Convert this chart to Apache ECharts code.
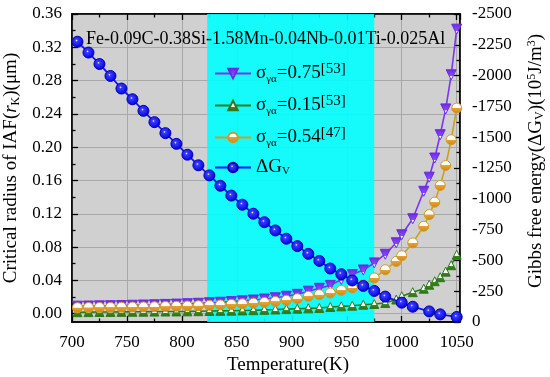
<!DOCTYPE html>
<html><head><meta charset="utf-8">
<script src="https://cdn.jsdelivr.net/npm/echarts@6/dist/echarts.min.js"></script>
<style>html,body{margin:0;padding:0;background:#fff}#c{width:550px;height:377px}</style>
</head><body><div id="c"></div>
<script>
// ---- data ----
const dgTemps = [705,715,725,735,745,755,765,775,785,795,805,815,825,835,845,855,865,875,885,895,905,915,925,935,945,955,965,975,985,1000,1010,1025,1035,1050];
const dgValues = [-2275,-2187,-2094,-1997,-1895,-1808,-1714,-1622,-1533,-1446,-1358,-1272,-1190,-1106,-1026,-952,-879,-810,-743,-676,-616,-553,-496,-434,-388,-337,-293,-252,-206,-157,-124,-86,-62,-41];

const sigmaTemps = [705,715,725,735,745,755,765,775,785,795,805,815,825,835,845,855,865,875,885,895,905,915,925,935,945,955,965,975,985,995,1000,1010,1020,1025,1030,1035,1040,1045,1050];
const rSigma075 = [0.0090,0.0092,0.0094,0.0096,0.0098,0.0101,0.0104,0.0107,0.0111,0.0115,0.0120,0.0125,0.0131,0.0137,0.0145,0.0154,0.0164,0.0176,0.0191,0.0209,0.0232,0.0270,0.0305,0.0340,0.0410,0.0470,0.0525,0.0610,0.0714,0.0852,0.0948,0.1140,0.1470,0.1640,0.1870,0.2150,0.2460,0.2870,0.3418];
const rSigma015 = [0.0018,0.0019,0.0020,0.0021,0.0022,0.0023,0.0024,0.0025,0.0026,0.0027,0.0028,0.0030,0.0032,0.0034,0.0036,0.0039,0.0042,0.0046,0.0050,0.0055,0.0060,0.0064,0.0068,0.0080,0.0088,0.0096,0.0108,0.0116,0.0128,0.0170,0.0210,0.0258,0.0300,0.0348,0.0390,0.0438,0.0505,0.0582,0.0708];
const rSigma054 = [0.0072,0.0073,0.0074,0.0075,0.0077,0.0079,0.0081,0.0083,0.0086,0.0089,0.0092,0.0096,0.0100,0.0105,0.0111,0.0118,0.0126,0.0135,0.0146,0.0160,0.0180,0.0208,0.0228,0.0248,0.0280,0.0309,0.0348,0.0429,0.0528,0.0628,0.0696,0.0850,0.1050,0.1190,0.1340,0.1540,0.1780,0.2090,0.2470];

const sigmaLabels = ['0.75','0.15','0.54'];
const sigmaRefs = ['[53]','[53]','[47]'];
const seriesNames = ['σγα=0.75[53]','σγα=0.15[53]','σγα=0.54[47]','ΔGV'];

const xTickLabels = [700,750,800,850,900,950,1000,1050];
const leftTickLabels = [0,0.04,0.08,0.12,0.16,0.20,0.24,0.28,0.32,0.36];
const leftMinorTicks = [0.02,0.06,0.10,0.14,0.18,0.22,0.26,0.30,0.34];
const cyanBand = [823, 975];
const titleText = 'Fe-0.09C-0.38Si-1.58Mn-0.04Nb-0.01Ti-0.025Al';

// ---- chart ----
const FONT = 'Liberation Serif, Times New Roman, serif';
const pair = (xs, ys) => xs.map((x, i) => [x, ys[i]]);
const grad = (stops) => ({type:'linear', x:0, y:0, x2:0, y2:1, colorStops: stops});

const chart = echarts.init(document.getElementById('c'), null, {renderer:'canvas'});
const axisLblStyle = {fontFamily: FONT, fontSize: 17, color: '#000'};
const blackLine = {show: true, onZero: false, lineStyle: {color: '#000', width: 1.5}};

chart.setOption({
  animation: false,
  backgroundColor: '#fff',
  title: {text: titleText, left: 81, top: 25, textStyle: {fontFamily: FONT, fontSize: 18, fontWeight: 'normal', color: '#000'}},
  grid: {left: 72, right: 90, top: 14, bottom: 55, show: true, backgroundColor: '#d0d0d0', borderColor: '#000', borderWidth: 1.5, containLabel: false, outerBoundsMode: 'none'},
  legend: {
    orient: 'vertical', left: 209, top: 57, itemWidth: 36, itemHeight: 12, itemGap: 9,
    data: seriesNames,
    formatter: function(name){
      const i = seriesNames.indexOf(name);
      if (i < 3) return '{m|σ}{s|γα}{m|=' + sigmaLabels[i] + '}{p|' + sigmaRefs[i] + '}';
      return '{m|ΔG}{s|V}';
    },
    textStyle: {
      color: '#000',
      rich: {
        m: {fontFamily: FONT, fontSize: 19, color: '#000', verticalAlign: 'middle'},
        s: {fontFamily: FONT, fontSize: 11, color: '#000', verticalAlign: 'bottom', padding: [8,0,0,0]},
        p: {fontFamily: FONT, fontSize: 15, color: '#000', verticalAlign: 'top', padding: [0,0,8,0]}
      }
    }
  },
  xAxis: [{
    type: 'value', min: 700, max: 1053, interval: 50, position: 'bottom',
    axisLine: blackLine,
    axisTick: {show: true, inside: true, length: 6, lineStyle: {color: '#000', width: 1.3}},
    minorTick: {show: true, splitNumber: 2, length: 3.5, lineStyle: {color: '#000', width: 1.3}},
    axisLabel: Object.assign({margin: 12, showMaxLabel: false, formatter: v => xTickLabels.includes(v) ? String(v) : ''}, axisLblStyle),
    splitLine: {show: true, lineStyle: {color: '#a8a8a8', width: 1}},
    name: 'Temperature(K)', nameLocation: 'middle', nameGap: 31,
    nameTextStyle: {fontFamily: FONT, fontSize: 19, color: '#000', padding: [0,0,0,44]}
  }, {
    type: 'value', min: 700, max: 1053, interval: 50, position: 'top',
    axisLine: blackLine,
    axisTick: {show: true, inside: true, length: 6, lineStyle: {color: '#000', width: 1.3}},
    minorTick: {show: true, splitNumber: 2, length: 3.5, lineStyle: {color: '#000', width: 1.3}},
    axisLabel: {show: false}, splitLine: {show: false}
  }],
  yAxis: [{
    type: 'value', min: -0.01, max: 0.36, position: 'left',
    axisLine: blackLine,
    axisTick: {show: true, inside: true, length: 6, customValues: leftTickLabels, lineStyle: {color: '#000', width: 1.3}},
    axisLabel: Object.assign({margin: 10, customValues: leftTickLabels, formatter: v => v.toFixed(2)}, axisLblStyle),
    splitLine: {show: true, lineStyle: {color: '#a8a8a8', width: 1}},
    name: '{m|Critical radius of IAF(}{i|r}{s|K}{m|)(μm)}', nameLocation: 'middle', nameGap: 44, nameRotate: 90,
    nameTextStyle: {padding: [0,0,0,0], rich: {
      m: {fontFamily: FONT, fontSize: 19, color: '#000'},
      i: {fontFamily: FONT, fontSize: 19, fontStyle: 'italic', color: '#000'},
      s: {fontFamily: FONT, fontSize: 12, color: '#000', verticalAlign: 'bottom', padding: [8,0,0,0]}
    }}
  }, {
    type: 'value', min: -2500, max: 0, interval: 250, inverse: true, position: 'right',
    axisLine: blackLine,
    axisTick: {show: true, inside: true, length: 6, lineStyle: {color: '#000', width: 1.3}},
    minorTick: {show: true, splitNumber: 2, length: 3.5, lineStyle: {color: '#000', width: 1.3}},
    axisLabel: Object.assign({margin: 12, formatter: v => String(v)}, axisLblStyle),
    splitLine: {show: false},
    name: '{m|Gibbs free energy(ΔG}{s|V}{m|)(10}{p|5}{m|J/m}{p|3}{m|)}', nameLocation: 'middle', nameGap: 66, nameRotate: 90,
    nameTextStyle: {padding: [0,0,0,14], rich: {
      m: {fontFamily: FONT, fontSize: 19, color: '#000'},
      s: {fontFamily: FONT, fontSize: 12, color: '#000', verticalAlign: 'bottom', padding: [8,0,0,0]},
      p: {fontFamily: FONT, fontSize: 12, color: '#000', verticalAlign: 'top', padding: [0,0,8,0]}
    }}
  }, {
    type: 'value', min: -0.01, max: 0.36, position: 'left',
    axisLine: {show: false, onZero: false},
    axisTick: {show: true, inside: true, length: 3.5, customValues: leftMinorTicks, lineStyle: {color: '#000', width: 1.3}},
    axisLabel: {show: false}, splitLine: {show: false}
  }],
  series: [{
    type: 'line', name: '_band', data: [], z: 1, silent: true,
    markArea: {silent: true, itemStyle: {color: 'rgba(0,255,255,0.9)'}, data: [[{xAxis: cyanBand[0]}, {xAxis: cyanBand[1]}]]}
  }, {
    type: 'line', name: seriesNames[0], data: pair(sigmaTemps, rSigma075), z: 3,
    symbol: 'triangle', symbolRotate: 180, symbolSize: 10,
    lineStyle: {color: '#7a36f0', width: 1.6},
    itemStyle: {color: grad([{offset:0,color:'#ffffff'},{offset:0.35,color:'#ffffff'},{offset:0.36,color:'#8a4cff'},{offset:1,color:'#6a2ae0'}]), borderColor: '#6a2ae0', borderWidth: 1}
  }, {
    type: 'line', name: seriesNames[1], data: pair(sigmaTemps, rSigma015), z: 3,
    symbol: 'triangle', symbolSize: 9,
    lineStyle: {color: '#2f7a1c', width: 1.6},
    itemStyle: {color: grad([{offset:0,color:'#ffffff'},{offset:0.6,color:'#ffffff'},{offset:0.61,color:'#3c8c22'},{offset:1,color:'#2a6a14'}]), borderColor: '#2f7a1c', borderWidth: 1}
  }, {
    type: 'line', name: seriesNames[2], data: pair(sigmaTemps, rSigma054), z: 3,
    symbol: 'circle', symbolSize: 10,
    lineStyle: {color: '#c9a020', width: 1.6},
    itemStyle: {color: grad([{offset:0,color:'#ffffff'},{offset:0.48,color:'#ffffff'},{offset:0.5,color:'#e8a233'},{offset:1,color:'#c98714'}]), borderColor: '#d09a20', borderWidth: 1}
  }, {
    type: 'line', name: seriesNames[3], data: pair(dgTemps, dgValues), yAxisIndex: 1, z: 4,
    symbol: 'circle', symbolSize: 11,
    lineStyle: {color: '#1010ff', width: 1.8},
    itemStyle: {color: {type:'radial', x:0.42, y:0.4, r:0.6, colorStops:[{offset:0,color:'#ffffff'},{offset:0.18,color:'#3a3aff'},{offset:1,color:'#0000dd'}]}, borderColor: '#0000b0', borderWidth: 1}
  }]
});
</script></body></html>
